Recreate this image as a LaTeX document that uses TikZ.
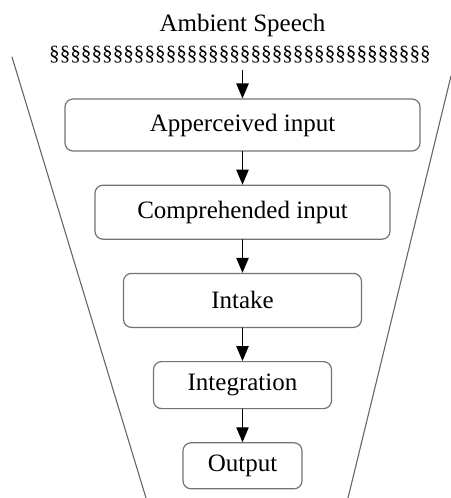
\documentclass[tikz,border=0pt]{standalone}
\usepackage{fontspec}
\setmainfont{Liberation Serif}
\usetikzlibrary{arrows}
\usetikzlibrary{positioning}

\begin{document}
\begin{tikzpicture}[line cap=round,line join=round,>=triangle 45,x=0.5pt,y=-0.5pt,
  stage/.style={draw=black!55, line width=0.6pt, rounded corners=4pt, font=\fontsize{12.5}{15}\selectfont},
  flow/.style={->, line width=0.7pt}]
\useasboundingbox (0,0) rectangle (450,498);
% funnel
\draw [black!60, line width=0.55pt] (12,57)--(146,498);
\draw [black!60, line width=0.55pt] (451,76)--(348,498);
% source
\node [font=\fontsize{12.5}{15}\selectfont] (ambient) at (242.5,25) {Ambient Speech};
\node [font=\fontsize{10.6}{12}\selectfont, inner sep=0pt, outer sep=3.5pt] (noise) at (240,55) {§§§§§§§§§§§§§§§§§§§§§§§§§§§§§§§§§§§§};
% stages
\node [stage, minimum width=177.5pt, minimum height=26pt] (apper) at (242.5,125) {Apperceived input};
\node [stage, minimum width=147.5pt, minimum height=27pt, below=16.5pt of apper] (compr) {Comprehended input};
\node [stage, minimum width=119pt, minimum height=27pt, below=16.5pt of compr] (intake) {Intake};
\node [stage, minimum width=89pt, minimum height=23.5pt, below=16.5pt of intake] (integr) {Integration};
\node [stage, minimum width=59.5pt, minimum height=23pt, below=16.5pt of integr] (output) {Output};
\draw [flow] (noise.south -| apper.north) -- (apper);
\draw [flow] (apper) -- (compr);
\draw [flow] (compr) -- (intake);
\draw [flow] (intake) -- (integr);
\draw [flow] (integr) -- (output);
\end{tikzpicture}
\end{document}
